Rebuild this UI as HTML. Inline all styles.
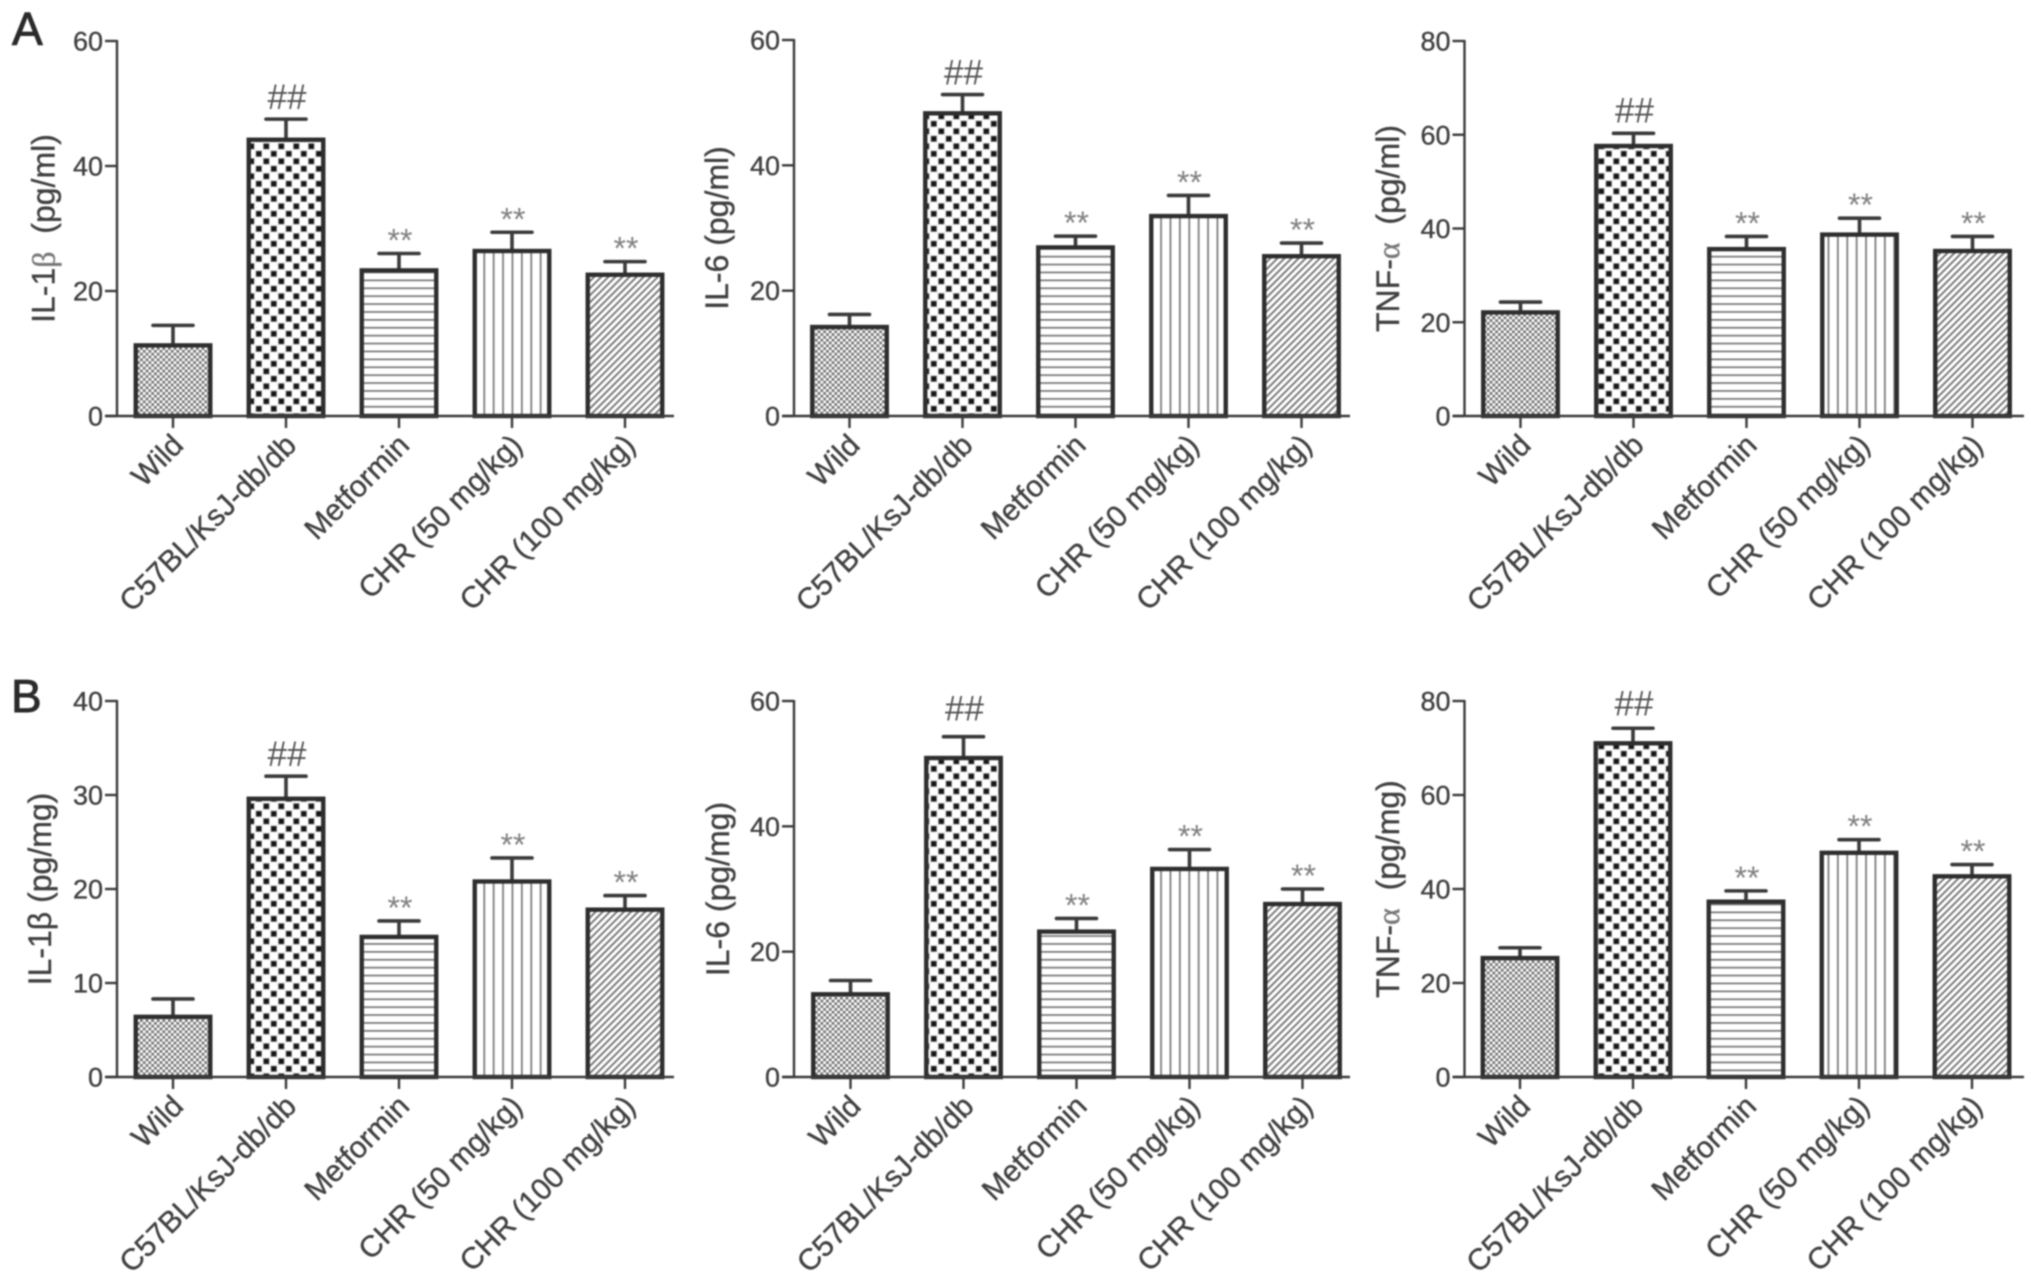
<!DOCTYPE html>
<html lang="en">
<head>
<meta charset="utf-8">
<title>Cytokine levels bar charts</title>
<style>
html,body{margin:0;padding:0;background:#fff;width:2031px;height:1285px;overflow:hidden}
svg{display:block;filter:blur(0.7px)}
text{font-family:"Liberation Sans",sans-serif;fill:#404040;stroke:#404040;stroke-width:0.35px}
.tick{font-size:27px}
.cat{font-size:30px}
.title{font-size:32px}
.greek{font-family:"Liberation Serif",serif;fill:#777;stroke:#777}
</style>
</head>
<body>
<svg id="chart" xmlns="http://www.w3.org/2000/svg" width="2031" height="1285" viewBox="0 0 2031 1285">
<defs>
<pattern id="p-fine" patternUnits="userSpaceOnUse" width="5.6" height="5.6">
<rect width="5.6" height="5.6" fill="#fff"/>
<rect x="0" y="0" width="2.8" height="2.8" fill="#777"/>
<rect x="2.8" y="2.8" width="2.8" height="2.8" fill="#777"/>
</pattern>
<pattern id="p-check" patternUnits="userSpaceOnUse" width="15" height="15">
<rect width="15" height="15" fill="#fff"/>
<rect x="0.3" y="0.3" width="7" height="7" fill="#c4c4c4"/>
<rect x="7.8" y="7.8" width="7" height="7" fill="#c4c4c4"/>
<rect x="1.2" y="1.2" width="5.2" height="5.2" fill="#161616"/>
<rect x="8.7" y="8.7" width="5.2" height="5.2" fill="#161616"/>
</pattern>
<pattern id="p-horiz" patternUnits="userSpaceOnUse" width="8" height="7.9">
<rect width="8" height="7.9" fill="#fff"/>
<rect y="3" width="8" height="1.7" fill="#777"/>
</pattern>
<pattern id="p-vert" patternUnits="userSpaceOnUse" width="9.4" height="8">
<rect width="9.4" height="8" fill="#fff"/>
<rect x="4" width="1.7" height="8" fill="#777"/>
</pattern>
<pattern id="p-diag" patternUnits="userSpaceOnUse" width="5" height="5" patternTransform="rotate(45)">
<rect width="5" height="5" fill="#fff"/>
<rect x="0" width="1.9" height="5" fill="#777"/>
</pattern>
</defs>
<text x="12" y="45" font-size="46" style="fill:#2a2a2a;stroke:#2a2a2a;stroke-width:0.9px">A</text>
<text x="11" y="712" font-size="46" style="fill:#2a2a2a;stroke:#2a2a2a;stroke-width:0.9px">B</text>
<g id="plots"></g>
</svg>
<script>
const categories = ["Wild", "C57BL/KsJ-db/db", "Metformin", "CHR (50 mg/kg)", "CHR (100 mg/kg)"];
const marks = ["", "##", "**", "**", "**"];

const il1bSerumValues = [11.3, 44.2, 23.3, 26.4, 22.6];
const il1bSerumErrors = [3.2, 3.3, 2.7, 3.0, 2.1];
const il6SerumValues = [14.2, 48.3, 26.9, 31.9, 25.5];
const il6SerumErrors = [2.0, 3.0, 1.8, 3.3, 2.1];
const tnfSerumValues = [22.1, 57.6, 35.6, 38.7, 35.2];
const tnfSerumErrors = [2.2, 2.7, 2.7, 3.5, 3.1];
const il1bTissueValues = [6.4, 29.6, 14.9, 20.8, 17.8];
const il1bTissueErrors = [1.9, 2.4, 1.7, 2.5, 1.5];
const il6TissueValues = [13.2, 50.9, 23.2, 33.2, 27.6];
const il6TissueErrors = [2.2, 3.4, 2.1, 3.1, 2.4];
const tnfTissueValues = [25.3, 71.0, 37.3, 47.7, 42.7];
const tnfTissueErrors = [2.2, 3.2, 2.3, 2.8, 2.5];

const ticks60 = [0, 20, 40, 60];
const ticks80 = [0, 20, 40, 60, 80];
const ticks40 = [0, 10, 20, 30, 40];

const patternIds = ["p-fine", "p-check", "p-horiz", "p-vert", "p-diag"];
const NS = "http://www.w3.org/2000/svg";
const INK = "#3a3a3a";

const panels = [
  {key:"il1b-serum", v:il1bSerumValues, e:il1bSerumErrors, t:ticks60, pre:"IL-1", greek:"\u03B2", post:"  (pg/ml)", ax:117, top:41, bot:416, first:173, right:674, tx:44.5, hashDy:0},
  {key:"il6-serum", v:il6SerumValues, e:il6SerumErrors, t:ticks60, pre:"IL-6 (pg/ml)", greek:"", post:"", ax:794, top:40, bot:416, first:849.5, right:1350, tx:718, hashDy:0},
  {key:"tnf-serum", v:tnfSerumValues, e:tnfSerumErrors, t:ticks80, pre:"TNF-", greek:"\u03B1", post:"  (pg/ml)", ax:1464.5, top:41, bot:416, first:1520.5, right:2024, tx:1389, hashDy:-1},
  {key:"il1b-tissue", v:il1bTissueValues, e:il1bTissueErrors, t:ticks40, pre:"IL-1\u03B2 (pg/mg)", greek:"", post:"", ax:117, top:701, bot:1077, first:173, right:674, tx:41, hashDy:0},
  {key:"il6-tissue", v:il6TissueValues, e:il6TissueErrors, t:ticks60, pre:"IL-6 (pg/mg)", greek:"", post:"", ax:794, top:701, bot:1077, first:850.5, right:1350, tx:719, hashDy:-6},
  {key:"tnf-tissue", v:tnfTissueValues, e:tnfTissueErrors, t:ticks80, pre:"TNF-", greek:"\u03B1", post:"  (pg/mg)", ax:1464.5, top:701, bot:1077, first:1520, right:2024, tx:1389, hashDy:-3}
];

function make(parent, tag, attrs) {
  const el = document.createElementNS(NS, tag);
  for (const k in attrs) el.setAttribute(k, attrs[k]);
  parent.appendChild(el);
  return el;
}

const root = document.getElementById("plots");
const BAR_W = 74.5;
const STEP = 113;

panels.forEach(function (p) {
  const maxV = p.t[p.t.length - 1];
  const yScale = function (val) { return p.bot - (val / maxV) * (p.bot - p.top); };
  const xScale = function (i) { return p.first + i * STEP; };

  const g = make(root, "g", {});
  
  

  // bars and error bars
  p.v.forEach(function (val, i) {
    const cx = xScale(i);
    const yv = yScale(val);
    const ye = yScale(val + p.e[i]);

    const stem = make(g, "line", {x1:cx, x2:cx, y1:ye, y2:yv, stroke:INK, "stroke-width":3.6});
    
    

    const cap = make(g, "line", {x1:cx - 20, x2:cx + 20, y1:ye, y2:ye, stroke:INK, "stroke-width":3.6, "stroke-linecap":"round"});
    
    

    const bar = make(g, "rect", {x:cx - BAR_W / 2, y:yv, width:BAR_W, height:p.bot - yv, fill:"url(#" + patternIds[i] + ")", stroke:"#2e2e2e", "stroke-width":4.4});
    
    

    if (marks[i]) {
      const isHash = marks[i] === "##";
      const m = make(g, "text", {x:cx + 1, y:isHash ? ye - 10 + p.hashDy : ye - 2, "text-anchor":"middle", "font-size":isHash ? 35 : 32});
      m.style.fill = isHash ? "#555" : "#808080";
      m.style.stroke = "none";
      m.textContent = marks[i];
      
      
    }
  });

  // axes
  const yAxis = make(g, "line", {x1:p.ax, x2:p.ax, y1:p.top - 1, y2:p.bot + 1, stroke:INK, "stroke-width":2.4});
  
  

  const xAxis = make(g, "line", {x1:p.ax - 12, x2:p.right, y1:p.bot, y2:p.bot, stroke:INK, "stroke-width":2.4});
  
  

  p.t.forEach(function (tv) {
    const y = yScale(tv);
    const tl = make(g, "line", {x1:p.ax - 12, x2:p.ax, y1:y, y2:y, stroke:INK, "stroke-width":2.4});
    
    

    const lbl = make(g, "text", {x:p.ax - 14, y:y + 9.5, "text-anchor":"end", "class":"tick"});
    lbl.textContent = tv;
    
    
  });

  categories.forEach(function (c, i) {
    const cx = xScale(i);
    const tk = make(g, "line", {x1:cx, x2:cx, y1:p.bot, y2:p.bot + 12, stroke:INK, "stroke-width":2.4});
    
    

    const ax = cx + 12, ay = p.bot + 31;
    const lbl = make(g, "text", {x:ax, y:ay, "text-anchor":"end", "class":"cat", transform:"rotate(-45 " + ax + " " + ay + ")"});
    lbl.textContent = c;
    
    
  });

  // y axis title
  const midY = (p.top + p.bot) / 2;
  const title = make(g, "text", {x:p.tx + 10, y:midY, "text-anchor":"middle", "class":"title", transform:"rotate(-90 " + (p.tx + 10) + " " + midY + ")", "xml:space":"preserve"});
  title.style.whiteSpace = "pre";
  
  
  const s1 = make(title, "tspan", {});
  s1.textContent = p.pre;
  if (p.greek) {
    const s2 = make(title, "tspan", {"class":"greek"});
    s2.textContent = p.greek;
    const s3 = make(title, "tspan", {});
    s3.textContent = p.post;
  }
});
</script>
</body>
</html>
